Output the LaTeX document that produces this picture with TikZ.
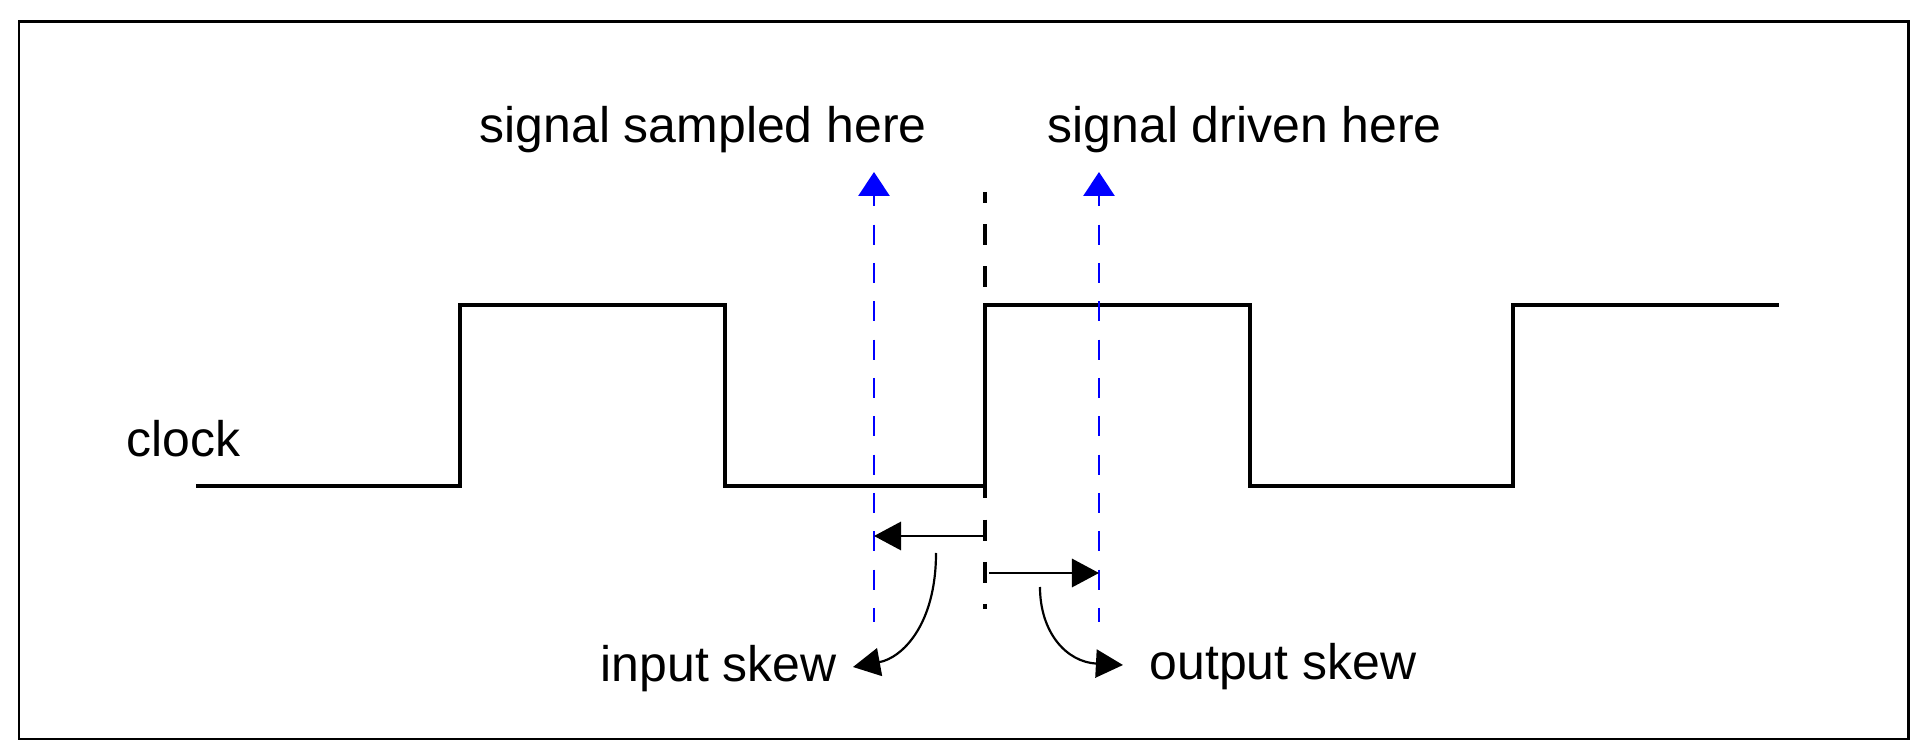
\documentclass[tikz,border=0pt]{standalone}
\usepackage{fontspec}
\setmainfont{Liberation Sans}
\usetikzlibrary{arrows.meta}

\begin{document}
\begin{tikzpicture}[x=0.01cm,y=-0.01cm]
        \tikzset{
            clockline/.style={line width=1.33pt, line join=miter},
            probe/.style={blue, line width=0.78pt,
                dash pattern=on 5.69pt off 5.21pt, dash phase=2.56pt,
                {Triangle[length=6.8pt,width=8.8pt]}-},
            edgeline/.style={line width=0.9pt,
                dash pattern=on 6pt off 6pt, dash phase=2.85pt},
            skewarrow/.style={line width=0.85pt, -{Triangle[length=7.7pt,width=8pt]}},
            bendarrow/.style={line width=0.62pt, -{Triangle[length=7.7pt,width=8pt]}},
            lbl/.style={font=\fontsize{14.2}{17}\selectfont, inner sep=0pt, anchor=base west}
        }
        \useasboundingbox (0,0) rectangle (1920,752);
        \draw[line width=0.85pt] (19,22) rectangle (1908,739);

        % labels
        \node[lbl] (clk) at (126,457) {clock};
        \node[lbl] (sampled) at (479,143) {signal sampled here};
        \node[lbl] (driven) at (1047,143) {signal driven here};
        \node[lbl] (inskew) at (600,682) {input skew};
        \node[lbl] (outskew) at (1149,680) {output skew};

        % clock waveform
        \draw[clockline] (196,486) -| (460,305) -| (725,486) -| (985,305)
            -| (1250,486) -| (1513,305) -- (1779,305);

        % sample and drive points, clock edge
        \coordinate (sampletop) at (874,172);
        \coordinate (samplebot) at (874,622);
        \coordinate (drivetop) at (1099,172);
        \coordinate (drivebot) at (1099,622);
        \coordinate (edgetop) at (985,192);
        \coordinate (edgebot) at (985,609);

        \draw[probe] (sampletop) -- (samplebot);
        \draw[probe] (drivetop) -- (drivebot);
        \draw[edgeline] (edgetop) -- (edgebot);

        % skews
        \coordinate (inskewfrom) at (985,536);
        \coordinate (inskewto) at (874,536);
        \coordinate (outskewfrom) at (989,573);
        \coordinate (outskewto) at (1099,573);
        \draw[skewarrow] (inskewfrom) -- (inskewto);
        \draw[skewarrow] (outskewfrom) -- (outskewto);

        \coordinate (inbend) at (936,553);
        \coordinate (inbendtip) at (853,667);
        \coordinate (outbend) at (1040,587);
        \coordinate (outbendtip) at (1123,665);
        \draw[bendarrow] (inbend) .. controls (936,625) and (902,658) .. (inbendtip);
        \draw[bendarrow] (outbend) .. controls (1040,632) and (1066,662) .. (outbendtip);
    \end{tikzpicture}
\end{document}
